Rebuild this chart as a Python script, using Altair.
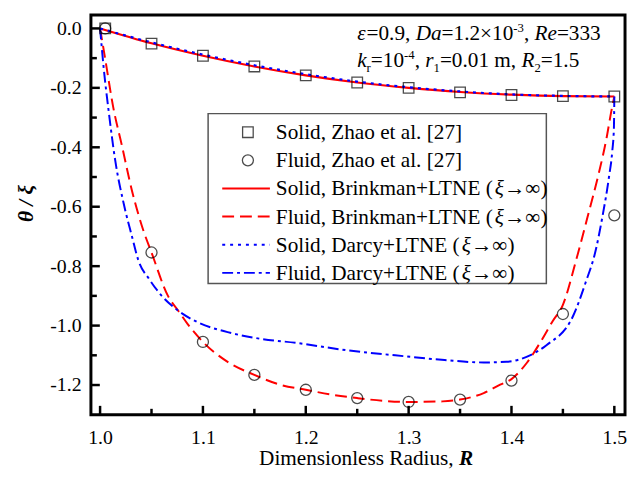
import altair as alt
import pandas as pd

FONT = "'Liberation Serif', 'Times New Roman', 'DejaVu Serif', serif"

# ---------------- data ----------------
sq_R = [1.005, 1.05, 1.10, 1.15, 1.20, 1.25, 1.30, 1.35, 1.40, 1.45, 1.50]
sq_T = [0.0, -0.051, -0.092, -0.128, -0.158, -0.182, -0.200, -0.215, -0.224, -0.228, -0.229]

ci_R = [1.005, 1.05, 1.10, 1.15, 1.20, 1.25, 1.30, 1.35, 1.40, 1.45, 1.50]
ci_T = [0.0, -0.754, -1.055, -1.166, -1.216, -1.244, -1.257, -1.249, -1.185, -0.961, -0.629]

solidB_R = [1.0, 1.05, 1.10, 1.15, 1.20, 1.25, 1.30, 1.35, 1.40, 1.45, 1.50]
solidB_T = [0.0, -0.050, -0.092, -0.128, -0.158, -0.182, -0.200, -0.214, -0.223, -0.228, -0.229]
solidD_T = [0.0, -0.047, -0.088, -0.124, -0.154, -0.179, -0.198, -0.212, -0.222, -0.227, -0.229]

fluidB_R = [1.0, 1.005, 1.013, 1.021, 1.031, 1.042, 1.05, 1.066, 1.076, 1.085, 1.10, 1.124,
            1.15, 1.175, 1.20, 1.226, 1.25, 1.275, 1.30, 1.333, 1.35, 1.373, 1.389, 1.40,
            1.415, 1.43, 1.44, 1.45, 1.463, 1.474, 1.484, 1.4925, 1.497, 1.50]
fluidB_T = [0.0, -0.103, -0.269, -0.391, -0.546, -0.679, -0.754, -0.90, -0.95, -0.994, -1.055, -1.122,
            -1.166, -1.199, -1.216, -1.233, -1.244, -1.253, -1.257, -1.255, -1.249, -1.227, -1.199, -1.180,
            -1.125, -1.045, -0.985, -0.93, -0.778, -0.634, -0.50, -0.368, -0.28, -0.229]

fluidD_R = [1.0, 1.0036, 1.0084, 1.0148, 1.023, 1.031, 1.037, 1.048, 1.06, 1.076, 1.095, 1.124,
            1.155, 1.19, 1.24, 1.287, 1.335, 1.373, 1.395, 1.418, 1.434, 1.46, 1.472, 1.482,
            1.4884, 1.4948, 1.498, 1.4996, 1.50]
fluidD_T = [0.0, -0.136, -0.28, -0.446, -0.59, -0.70, -0.778, -0.845, -0.90, -0.95, -0.989, -1.022,
            -1.044, -1.058, -1.083, -1.10, -1.116, -1.124, -1.122, -1.10, -1.066, -0.967, -0.856, -0.745,
            -0.634, -0.50, -0.413, -0.335, -0.229]

x_major = [1.0, 1.1, 1.2, 1.3, 1.4, 1.5]
x_minor = [1.05, 1.15, 1.25, 1.35, 1.45]
y_major = [0.0, -0.2, -0.4, -0.6, -0.8, -1.0, -1.2]
y_minor = [-0.1, -0.3, -0.5, -0.7, -0.9, -1.1]

legend_labels = [
    "Solid, Zhao et al. [27]",
    "Fluid, Zhao et al. [27]",
    "Solid, Brinkman+LTNE (",
    "Fluid, Brinkman+LTNE (",
    "Solid, Darcy+LTNE (",
    "Fluid, Darcy+LTNE (",
]

W, H = 541, 405
xs = alt.Scale(domain=[0.9911, 1.5104], nice=False, zero=False)
ys = alt.Scale(domain=[-1.300, 0.0455], nice=False, zero=False)

TICKFS = 20
ax_x = alt.Axis(values=x_major, format=".1f", ticks=False, domain=False, grid=False, title=None,
                labelFont=FONT, labelFontSize=TICKFS, labelPadding=13, labelColor="black",
                labelFlush=False, labelOverlap=False)
ax_y = alt.Axis(values=y_major, labelExpr="replace(format(datum.value, '.1f'), '\u2212', '-')",
                ticks=False, domain=False, grid=False, title=None,
                labelFont=FONT, labelFontSize=TICKFS, labelPadding=10, labelColor="black",
                labelFlush=False, labelOverlap=False)

X = alt.X("R:Q", scale=xs, axis=ax_x)
Y = alt.Y("T:Q", scale=ys, axis=ax_y)


def df(r, t):
    return pd.DataFrame({"R": r, "T": t})


def line(r, t, color, dash=None, width=2.0):
    kw = dict(color=color, strokeWidth=width, clip=True, interpolate="monotone")
    if dash:
        kw["strokeDash"] = dash
    return alt.Chart(df(r, t)).mark_line(**kw).encode(x=X, y=Y, order=alt.Order("R:Q"))


DASH_R = [12, 6]
DOT_B = [3, 5]
DASHDOT_B = [11, 4, 3, 4]

layers = []
layers.append(line(solidB_R, solidB_T, "#ff0000", None, 2.2))
layers.append(line(fluidB_R, fluidB_T, "#ff0000", DASH_R, 2.0))
layers.append(line(solidB_R, solidD_T, "#0000ff", DOT_B, 2.2))
layers.append(line(fluidD_R, fluidD_T, "#0000ff", DASHDOT_B, 2.0))

layers.append(alt.Chart(df(sq_R, sq_T)).mark_point(shape="square", size=115, filled=False,
                                                   color="black", strokeWidth=1.3).encode(x=X, y=Y))
layers.append(alt.Chart(df(ci_R, ci_T)).mark_point(shape="circle", size=125, filled=False,
                                                   color="black", strokeWidth=1.3).encode(x=X, y=Y))

# inward ticks
layers.append(alt.Chart(pd.DataFrame({"R": x_major})).mark_rule(color="black", strokeWidth=2.5)
              .encode(x=X, y=alt.value(H), y2=alt.value(H - 9)))
layers.append(alt.Chart(pd.DataFrame({"R": x_minor})).mark_rule(color="black", strokeWidth=2.5)
              .encode(x=X, y=alt.value(H), y2=alt.value(H - 6)))
layers.append(alt.Chart(pd.DataFrame({"T": y_major})).mark_rule(color="black", strokeWidth=2.5)
              .encode(y=Y, x=alt.value(0), x2=alt.value(9)))
layers.append(alt.Chart(pd.DataFrame({"T": y_minor})).mark_rule(color="black", strokeWidth=2.5)
              .encode(y=Y, x=alt.value(0), x2=alt.value(6)))

# ---------------- text helpers (Times-compatible advance widths, em) ----------------
REG = {" ": .25, ",": .25, ".": .25, "-": .333, "=": .564, "\u00d7": .564, "+": .564,
       "(": .333, ")": .333, "[": .333, "]": .333, "\u2192": 1.0, "\u221e": .713, "\u03b5": .44,
       "A": .722, "B": .667, "C": .667, "D": .722, "E": .611, "F": .556, "L": .611, "N": .722,
       "R": .667, "S": .556, "T": .611, "Z": .611,
       "a": .444, "c": .444, "d": .5, "e": .444, "h": .5, "i": .278, "k": .5, "l": .278, "m": .778,
       "n": .5, "o": .5, "r": .333, "s": .389, "t": .278, "u": .5, "y": .5}
ITA = {"D": .722, "a": .5, "R": .611, "e": .444, "k": .444, "r": .389, "\u03b5": .44, "\u03be": .44}


def tw(s, size, italic=False):
    tab = ITA if italic else REG
    return sum((tab.get(c, REG.get(c, .5))) for c in s) * size


def txt(s, x, y, size, style="normal", weight="normal", angle=0, align="left", baseline="alphabetic"):
    return alt.Chart(alt.Data(values=[{}])).mark_text(
        text=s, font=FONT, fontSize=size, fontStyle=style, fontWeight=weight, angle=angle,
        align=align, baseline=baseline, color="black").encode(x=alt.value(x), y=alt.value(y))


def rich(parts, x0, y0, size):
    """parts: (text, italic, kind) kind in {'n','sup','sub'}"""
    out = []
    x = x0
    for s, it, kind in parts:
        if kind == "sup":
            sz, dy = size * 0.6, -8
        elif kind == "sub":
            sz, dy = size * 0.6, 5
        else:
            sz, dy = size, 0
        out.append(txt(s, x, y0 + dy, sz, "italic" if it else "normal"))
        x += tw(s, sz, it)
    return out


FS = 21.5
layers += rich([("\u03b5", True, "n"), ("=0.9, ", False, "n"), ("Da", True, "n"),
                ("=1.2\u00d710", False, "n"), ("-3", False, "sup"), (", ", False, "n"),
                ("Re", True, "n"), ("=333", False, "n")], 269.7, 25.5, FS)
layers += rich([("k", True, "n"), ("r", False, "sub"), ("=10", False, "n"), ("-4", False, "sup"),
                (", ", False, "n"), ("r", True, "n"), ("1", False, "sub"),
                ("=0.01 m, ", False, "n"), ("R", True, "n"), ("2", False, "sub"),
                ("=1.5", False, "n")], 269.7, 53.0, FS)

# axis titles
xt = "Dimensionless Radius, "
layers.append(txt(xt, 170.3, 456, FS))
layers.append(txt("R", 170.3 + tw(xt, FS), 456, FS, "italic", "bold"))
layers.append(txt("\u03b8 / \u03be", -64.5, 191, FS, "italic", "bold", angle=270,
                  align="center", baseline="middle"))

# ---------------- legend ----------------
LX0, LX1, LY0, LY1 = 118.7, 461.3, 100.0, 272.0
layers.append(alt.Chart(alt.Data(values=[{}])).mark_rect(
    fill="white", stroke="#555555", strokeWidth=1.5).encode(
    x=alt.value(LX0), x2=alt.value(LX1), y=alt.value(LY0), y2=alt.value(LY1)))

rows = [118.8 + 28.5 * i for i in range(6)]
SYM_X, L0, L1, TX = 159.0, 133.0, 181.3, 187.3
LFS = 21.5
layers.append(alt.Chart(alt.Data(values=[{}])).mark_point(
    shape="square", size=115, filled=False, color="black", strokeWidth=1.3).encode(
    x=alt.value(SYM_X), y=alt.value(rows[0])))
layers.append(alt.Chart(alt.Data(values=[{}])).mark_point(
    shape="circle", size=125, filled=False, color="black", strokeWidth=1.3).encode(
    x=alt.value(SYM_X), y=alt.value(rows[1])))
styles = [("#ff0000", None), ("#ff0000", DASH_R), ("#0000ff", DOT_B), ("#0000ff", DASHDOT_B)]
for i, (c, d) in enumerate(styles):
    kw = dict(color=c, strokeWidth=2.0)
    if d:
        kw["strokeDash"] = d
    layers.append(alt.Chart(alt.Data(values=[{}])).mark_rule(**kw).encode(
        x=alt.value(L0), x2=alt.value(L1), y=alt.value(rows[i + 2])))

for i, lab in enumerate(legend_labels):
    yb = rows[i] + 7
    if i < 2:
        layers.append(txt(lab, TX, yb, LFS))
    else:
        layers += rich([(lab, False, "n"), ("\u03be", True, "n"), ("\u2192\u221e)", False, "n")],
                       TX, yb, LFS)

chart = alt.layer(*layers).properties(
    width=W, height=H,
    padding={"left": 84, "top": 4, "right": 2, "bottom": 55},
    autosize=alt.AutoSizeParams(type="none"),
).configure_view(stroke="black", strokeWidth=3)

chart.save("out.html", embed_options={"renderer": "svg", "actions": False})
